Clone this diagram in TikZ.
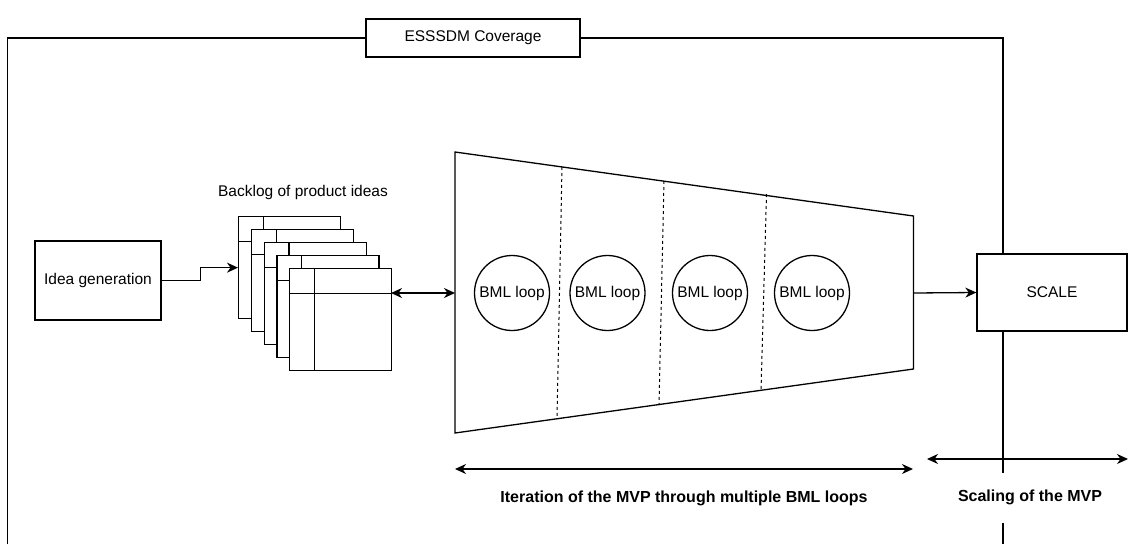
\documentclass[tikz,border=0pt]{standalone}
\usepackage{fontspec}
\setmainfont{Liberation Sans}
\usetikzlibrary{arrows.meta}
\begin{document}
\begin{tikzpicture}[x=1pt,y=-1pt,
  every node/.style={font=\fontsize{15.5}{18}\selectfont, inner sep=0pt},
  ln/.style={line width=1.3pt, draw=black},
  tip/.style={-{Stealth[length=11pt,width=10pt,inset=3.5pt]}},
  dtip/.style={{Stealth[length=11pt,width=10pt,inset=3.5pt]}-{Stealth[length=11pt,width=10pt,inset=3.5pt]}},
  box/.style={ln, fill=white, rectangle},
  card/.style={ln, fill=white, rectangle, minimum width=102pt, minimum height=102pt, anchor=north west},
  loop/.style={ln, circle, minimum size=75pt},
  blabel/.style={font=\fontsize{16}{19}\selectfont\bfseries}
]
\useasboundingbox (0,0) rectangle (1128,544);
% frame lines
\coordinate (fl) at (7.5,544);
\coordinate (ftl) at (7.5,38);
\coordinate (ftr) at (1003,38);
\coordinate (fr) at (1003,544);
\node[box, minimum width=214pt, minimum height=38pt] (ess) at (473,38) {ESSSDM Coverage};
\draw[ln] (fl) -- (ftl) -- (ess.west);
\draw[ln] (ess.east) -- (ftr) -- (fr);
% idea generation
\node[box, minimum width=126pt, minimum height=79pt] (idea) at (98,280.5) {Idea generation};
% backlog cards
\foreach \i in {1,...,5}{
  \pgfmathsetmacro{\cx}{238+12.75*(\i-1)}
  \pgfmathsetmacro{\cy}{216+13*(\i-1)}
  \node[card] (c\i) at (\cx,\cy) {};
  \draw[ln] ([xshift=25.5pt]c\i.north west) -- ([xshift=25.5pt]c\i.south west);
  \draw[ln] ([yshift=-25.5pt]c\i.north west) -- ([yshift=-25.5pt]c\i.north east);
}
\node (backlog) at (303,192) {Backlog of product ideas};
\draw[ln, tip] (idea.east) -- ++(39,0) |- (c1.west);
% trapezoid
\coordinate (tl) at (455,152);
\coordinate (tr) at (913.5,216);
\coordinate (br) at (913.5,369);
\coordinate (bl) at (455,433);
\draw[ln] (tl) -- (tr) -- (br) -- (bl) -- cycle;
\coordinate (tin) at (455,293);
\coordinate (tout) at (913.5,293);
\coordinate (d1t) at (562,167); \coordinate (d1b) at (557,419);
\coordinate (d2t) at (664,181); \coordinate (d2b) at (659,405);
\coordinate (d3t) at (766.5,194); \coordinate (d3b) at (761,391);
\foreach \k in {1,2,3}{\draw[ln, line width=1pt, dash pattern=on 3pt off 3pt] (d\k t) -- (d\k b);}
\node[loop] (l1) at (512,293) {BML loop};
\node[loop] (l2) at (607.5,293) {BML loop};
\node[loop] (l3) at (710,293) {BML loop};
\node[loop] (l4) at (812,293) {BML loop};
\coordinate (c5mid) at (391,293);
\draw[ln, dtip] (c5mid) -- (tin);
% scale
\node[box, minimum width=150pt, minimum height=77pt] (scale) at (1052,292.5) {SCALE};
\draw[ln, tip] (tout) -- (scale.west);
% bottom arrows
\coordinate (a1) at (455,469); \coordinate (a2) at (913,469);
\draw[ln, dtip] (a1) -- (a2);
\coordinate (b1) at (927,459); \coordinate (b2) at (1128,459);
\draw[ln, dtip] (b1) -- (b2);
\node[blabel] (itl) at (684,498) {Iteration of the MVP through multiple BML loops};
\node[blabel, fill=white, minimum height=50pt, inner xsep=4pt] (scl) at (1030,497.5) {Scaling of the MVP};
\end{tikzpicture}
\end{document}
